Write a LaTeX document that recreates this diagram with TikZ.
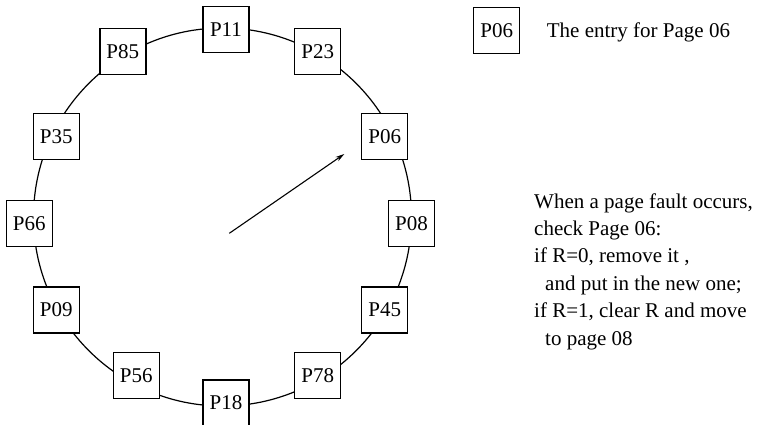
\documentclass[tikz,border=0pt]{standalone}
\usepackage{fontspec}
\setmainfont{Liberation Serif}
\usetikzlibrary{arrows.meta}
\begin{document}
\begin{tikzpicture}[x=1pt,y=-1pt,
  page/.style={draw, fill=white, line width=1.4pt, minimum width=46pt, minimum height=46pt, inner sep=0pt, font=\fontsize{21}{25}\selectfont},
  txt/.style={font=\fontsize{21}{25}\selectfont, inner sep=0pt, anchor=base west},
  ringstyle/.style={draw, circle, line width=1.2pt, minimum size=378pt, inner sep=0pt}]
\useasboundingbox (0,0) rectangle (759,424);
\node[ringstyle] (ring) at (222.5,217) {};
\node[page] (p11) at (226,29.7) {P11};
\node[page] (p85) at (122.8,51.3) {P85};
\node[page] (p23) at (317.7,51.3) {P23};
\node[page] (p35) at (56.2,136.5) {P35};
\node[page] (p06) at (384.7,136.5) {P06};
\node[page] (p66) at (29.2,223.3) {P66};
\node[page] (p08) at (411.5,223.3) {P08};
\node[page] (p09) at (56.2,310) {P09};
\node[page] (p45) at (384.7,310) {P45};
\node[page] (p56) at (136.2,375.2) {P56};
\node[page] (p78) at (317.7,375.2) {P78};
\node[page] (p18) at (226,403) {P18};
\coordinate (hand) at (229.3,233.3);
\coordinate (tip) at (344.3,154);
\draw[line width=1.1pt, -{Stealth[length=9pt,width=5pt]}] (hand) -- (tip);
\node[page] (key) at (496.7,30.5) {P06};
\node[txt] (keytext) at (546.7,37) {The entry for Page 06};
\node[txt] (l1) at (534,208) {When a page fault occurs,};
\node[txt] (l2) at (534,235.4) {check Page 06:};
\node[txt] (l3) at (534,262.8) {if R=0, remove it ,};
\node[txt] (l4) at (545,290.2) {and put in the new one;};
\node[txt] (l5) at (534,317.6) {if R=1, clear R and move};
\node[txt] (l6) at (545,345) {to page 08};
\end{tikzpicture}
\end{document}
